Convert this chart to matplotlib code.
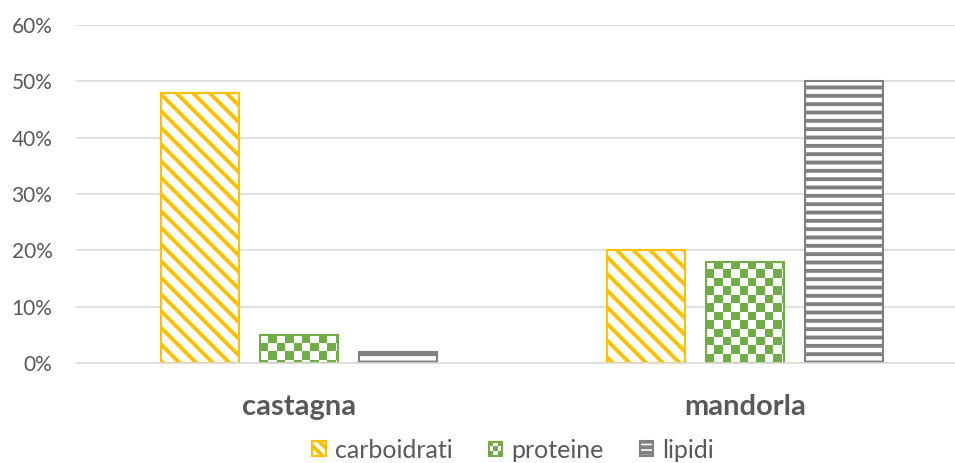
import numpy as np
import matplotlib
matplotlib.use("Agg")
import matplotlib.pyplot as plt
from matplotlib.colors import ListedColormap
from matplotlib.patches import Rectangle
from matplotlib.legend_handler import HandlerBase
from matplotlib.ticker import PercentFormatter

# Data
categories = ["castagna", "mandorla"]
series_names = ["carboidrati", "proteine", "lipidi"]
carboidrati = [0.48, 0.20]
proteine = [0.05, 0.18]
lipidi = [0.02, 0.50]
y_ticks = [0.0, 0.1, 0.2, 0.3, 0.4, 0.5, 0.6]

GOLD = "#FFC000"
GREEN = "#70AD47"
GRAY = "#808080"
TEXT = "#595959"
GRID = "#D9D9D9"

plt.rcParams["font.family"] = ["Lato", "DejaVu Sans"]
plt.rcParams["hatch.linewidth"] = 2.8

W, H, DPI = 955, 463, 100
fig = plt.figure(figsize=(W / DPI, H / DPI), dpi=DPI)
ax = fig.add_axes([76 / W, (H - 363) / H, 892 / W, (363 - 25) / H])

x = np.arange(len(categories))
bw = 0.177
step = 0.222

ax.set_xlim(-0.5, 1.5)
ax.set_ylim(0, 0.6)

# carboidrati: diagonal stripes
ax.bar(x - step, carboidrati, bw, facecolor="white", edgecolor=GOLD,
       hatch="\\\\", linewidth=1.5, zorder=2)

# proteine: checkerboard, drawn as a clipped image inside each bar
cell_px = 8.4
prot_bars = ax.bar(x, proteine, bw, facecolor="white", edgecolor="none", zorder=2)
checker_cmap = ListedColormap(["white", GREEN])
for rect in prot_bars:
    x0, y0 = rect.get_x(), rect.get_y()
    w, h = rect.get_width(), rect.get_height()
    (px0, py0) = ax.transData.transform((x0, y0))
    (px1, py1) = ax.transData.transform((x0 + w, y0 + h))
    nx = int(np.ceil((px1 - px0) / cell_px))
    ny = int(np.ceil((py1 - py0) / cell_px))
    dx = cell_px * w / (px1 - px0)
    dy = cell_px * h / (py1 - py0)
    ii, jj = np.indices((ny, nx))
    board = ((ii + jj) % 2).astype(float)
    im = ax.imshow(board, cmap=checker_cmap, vmin=0, vmax=1,
                   extent=(x0, x0 + nx * dx, y0 + h - ny * dy, y0 + h),
                   origin="upper", interpolation="nearest", aspect="auto",
                   zorder=2.1)
    im.set_clip_path(rect)
ax.bar(x, proteine, bw, facecolor="none", edgecolor=GREEN, linewidth=1.5,
       zorder=2.3)

# lipidi: horizontal lines
ax.bar(x + step, lipidi, bw, facecolor="white", edgecolor=GRAY,
       hatch="--", linewidth=1.5, zorder=2)

ax.set_xlim(-0.5, 1.5)
ax.set_ylim(0, 0.6)

ax.set_yticks(y_ticks)
ax.yaxis.set_major_formatter(PercentFormatter(1.0, decimals=0))
ax.yaxis.grid(True, color=GRID, linewidth=1.1, zorder=0)
ax.set_axisbelow(True)
for s in ["top", "right", "left"]:
    ax.spines[s].set_visible(False)
ax.spines["bottom"].set_color(GRID)
ax.spines["bottom"].set_linewidth(1.1)
ax.spines["bottom"].set_zorder(2.5)
ax.tick_params(axis="both", length=0, colors=TEXT)
ax.tick_params(axis="y", labelsize=15, pad=17)
ax.set_xticks(x)
ax.set_xticklabels(categories, fontsize=21, fontweight="bold", color=TEXT)
ax.tick_params(axis="x", pad=22)


class CheckerHandler(HandlerBase):
    def create_artists(self, legend, orig_handle, xdescent, ydescent,
                       width, height, fontsize, trans):
        side = min(width, height)
        x0 = -xdescent + (width - side) / 2
        y0 = -ydescent + (height - side) / 2
        arts = [Rectangle((x0, y0), side, side, facecolor="white",
                          edgecolor="none", transform=trans)]
        n = 3
        c = side / n
        for i in range(n):
            for j in range(n):
                if (i + j) % 2 == 0:
                    arts.append(Rectangle((x0 + j * c, y0 + i * c), c, c,
                                          facecolor=GREEN, edgecolor="none",
                                          transform=trans))
        arts.append(Rectangle((x0, y0), side, side, facecolor="none",
                              edgecolor=GREEN, linewidth=1.5, transform=trans))
        return arts


h_carb = Rectangle((0, 0), 1, 1, facecolor="white", edgecolor=GOLD,
                   hatch="\\\\\\", linewidth=1.5)
h_prot = Rectangle((0, 0), 1, 1, facecolor="white", edgecolor=GREEN)
h_lip = Rectangle((0, 0), 1, 1, facecolor="white", edgecolor=GRAY,
                  hatch="---", linewidth=1.5)

leg = fig.legend([h_carb, h_prot, h_lip], series_names,
                 loc="center", bbox_to_anchor=(513 / W, 1 - 450 / H),
                 ncol=3, frameon=False, fontsize=18,
                 handlelength=0.55, handleheight=0.55, handletextpad=0.35,
                 columnspacing=1.45, labelcolor=TEXT, borderaxespad=0,
                 borderpad=0,
                 handler_map={h_prot: CheckerHandler()})

fig.savefig("out.png", dpi=DPI)
